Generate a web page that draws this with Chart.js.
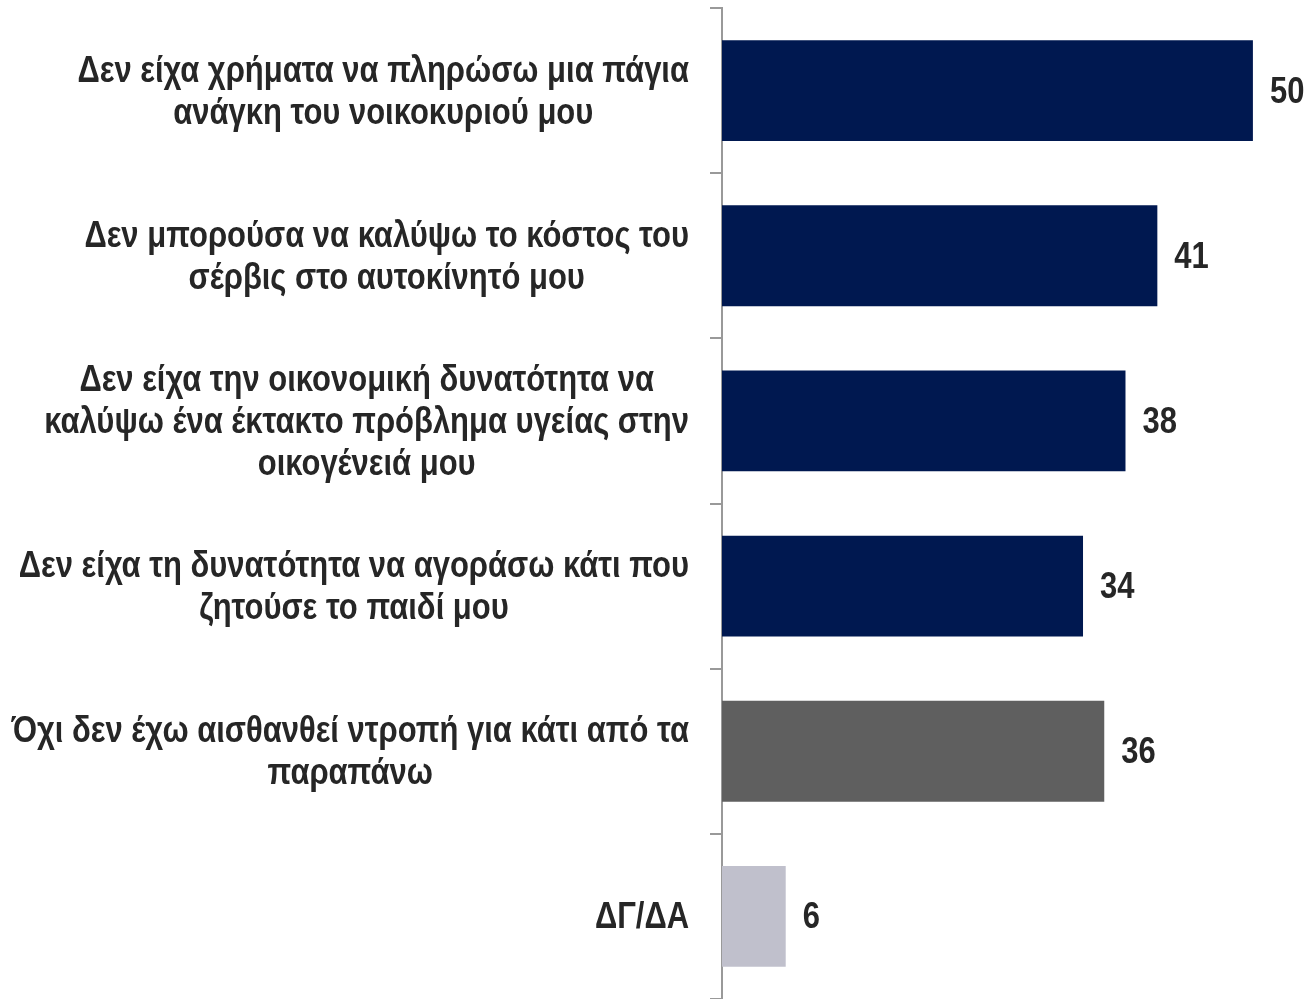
<!DOCTYPE html>
<html>
<head>
<meta charset="utf-8">
<script src="https://cdn.jsdelivr.net/npm/chart.js@4"></script>
<style>
  body { margin: 0; background: #fff; }
  #wrap { width: 1306px; height: 999px; }
</style>
</head>
<body>
<div id="wrap"><canvas id="shameChart"></canvas></div>
<script>
const categories = [
  ["Δεν είχα χρήματα να πληρώσω μια πάγια", "ανάγκη του νοικοκυριού μου"],
  ["Δεν μπορούσα να καλύψω το κόστος του", "σέρβις στο αυτοκίνητό μου"],
  ["Δεν είχα την οικονομική δυνατότητα να", "καλύψω ένα έκτακτο πρόβλημα υγείας στην", "οικογένειά μου"],
  ["Δεν είχα τη δυνατότητα να αγοράσω κάτι που", "ζητούσε το παιδί μου"],
  ["Όχι δεν έχω αισθανθεί ντροπή για κάτι από τα", "παραπάνω"],
  ["ΔΓ/ΔΑ"]
];
const values = [50, 41, 38, 34, 36, 6];
const barColors = ["#001850", "#001850", "#001850", "#001850", "#5f5f5f", "#c0c0cc"];

const FONT = '"Liberation Sans", sans-serif';
const SQUEEZE = 0.86; // fake a narrow face by squeezing text horizontally

function narrowText(ctx, txt, x, y) {
  ctx.save();
  ctx.translate(x, y);
  ctx.scale(SQUEEZE, 1);
  ctx.fillText(txt, 0, 0);
  ctx.restore();
}

// draw category labels (centred lines, block right-aligned) and value labels
const labelPlugin = {
  id: "labelPlugin",
  afterDraw(chart) {
    const ctx = chart.ctx;
    const yScale = chart.scales.y;
    const meta = chart.getDatasetMeta(0);
    ctx.save();
    ctx.font = "bold 36px " + FONT;
    ctx.fillStyle = "#262626";
    ctx.textBaseline = "middle";
    categories.forEach((lines, i) => {
      const yc = yScale.getPixelForValue(i) + 2;
      let maxW = 0;
      lines.forEach(l => { maxW = Math.max(maxW, ctx.measureText(l).width * SQUEEZE); });
      const cx = 689 - maxW / 2;
      ctx.textAlign = "center";
      lines.forEach((l, k) => {
        narrowText(ctx, l, cx, yc + (k - (lines.length - 1) / 2) * 42);
      });
      const bar = meta.data[i];
      ctx.textAlign = "left";
      narrowText(ctx, String(values[i]), bar.x + 17, yc);
    });
    ctx.restore();
  }
};

new Chart(document.getElementById("shameChart"), {
  type: "bar",
  data: {
    labels: categories,
    datasets: [{
      data: values,
      backgroundColor: barColors,
      borderWidth: 0,
      barPercentage: 0.61,
      categoryPercentage: 1
    }]
  },
  options: {
    indexAxis: "y",
    responsive: true,
    maintainAspectRatio: false,
    animation: false,
    layout: { padding: { top: 8, bottom: -2, left: 0, right: 0 } },
    plugins: { legend: { display: false }, tooltip: { enabled: false } },
    scales: {
      x: { display: false, min: 0, max: 55 },
      y: {
        ticks: { display: false },
        grid: { drawOnChartArea: false, drawTicks: true, tickLength: 12, offset: true, color: "#999999", lineWidth: 2 },
        border: { display: true, color: "#999999", width: 2 },
        afterFit(scale) { scale.width = 722; }
      }
    }
  },
  plugins: [labelPlugin]
});
</script>
</body>
</html>
